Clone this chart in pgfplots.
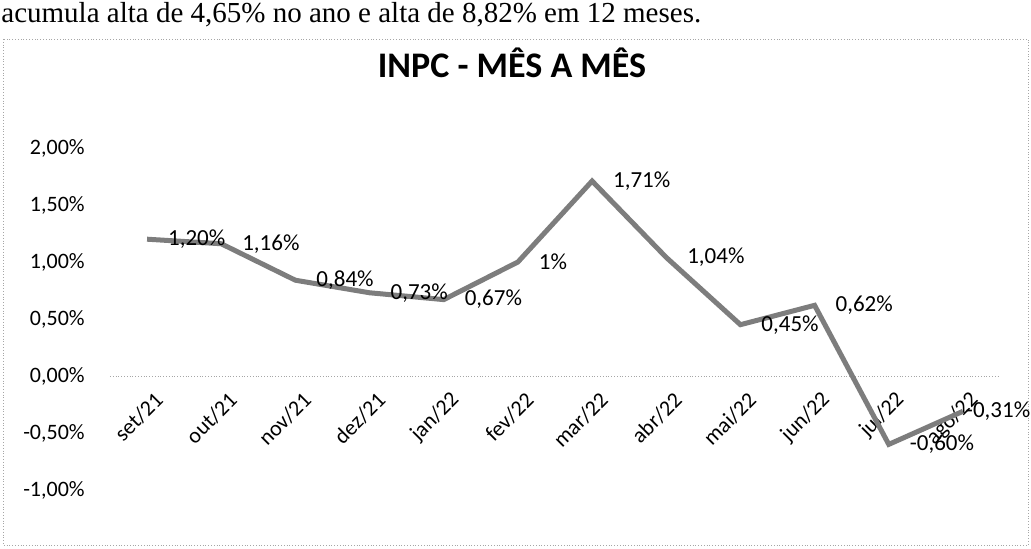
\documentclass[border=0pt]{standalone}
\usepackage{pgfplots}
\pgfplotsset{compat=1.18}
\usepackage{fontspec}
\setmainfont{Carlito}
\newfontfamily\timesfont{Liberation Serif}
\definecolor{linegray}{RGB}{125,125,125}
\begin{document}
\begin{tikzpicture}
\path[use as bounding box] (0pt,0pt) rectangle (515.5pt,274.5pt);
\draw[gray!70, densely dotted] (1.5pt,255pt) rectangle (514pt,2pt);
\node[anchor=base west, inner sep=0pt, font=\timesfont\fontsize{14.5}{16}\selectfont] at (0.5pt,263pt) {acumula alta de 4,65\% no ano e alta de 8,82\% em 12 meses.};
\node[font=\bfseries\fontsize{18}{21}\selectfont] at (256pt,243pt) {INPC - MÊS A MÊS};
\begin{axis}[
  at={(55pt,29.5pt)}, anchor=south west,
  scale only axis, width=445pt, height=171pt,
  xmin=-0.5, xmax=11.5, ymin=-1, ymax=2,
  axis x line=middle, axis y line=left,
  hide obscured x ticks=false, hide obscured y ticks=false,
  axis line style={-},
  x axis line style={gray!70, densely dotted},
  y axis line style={draw=none},
  tick style={draw=none},
  xtick={0,...,11},
  xticklabels={set/21,out/21,nov/21,dez/21,jan/22,fev/22,mar/22,abr/22,mai/22,jun/22,jul/22,ago/22},
  xticklabel style={rotate=45, anchor=east, xshift=2pt, yshift=-10pt},
  ytick={-1,-0.5,0,0.5,1,1.5,2},
  yticklabels={{-1,00\%},{-0,50\%},{0,00\%},{0,50\%},{1,00\%},{1,50\%},{2,00\%}},
  yticklabel style={xshift=-7pt},
  ticklabel style={font=\fontsize{11}{13}\selectfont},
  clip=false,
  point meta=explicit symbolic,
  nodes near coords style={font=\fontsize{11.5}{13}\selectfont, anchor=west, xshift=7pt, text=black},
]
\addplot[linegray, line width=2.5pt, mark=none] coordinates {
  (0,1.20) (1,1.16) (2,0.84) (3,0.73) (4,0.67) (5,1.00)
  (6,1.71) (7,1.04) (8,0.45) (9,0.62) (10,-0.60) (11,-0.31)
};
\addplot[draw=none, mark=none, nodes near coords] coordinates {
  (0,1.20) [1,20\%]
  (1,1.16) [1,16\%]
  (2,0.84) [0,84\%]
  (3,0.73) [0,73\%]
  (4,0.67) [0,67\%]
  (5,1.00) [1\%]
  (6,1.71) [1,71\%]
  (7,1.04) [1,04\%]
  (8,0.45) [0,45\%]
  (9,0.62) [0,62\%]
  (10,-0.60) [-0,60\%]
};
\addplot[draw=none, mark=none, nodes near coords, nodes near coords style={xshift=-9pt}] coordinates {
  (11,-0.31) [-0,31\%]
};
\end{axis}
\end{tikzpicture}
\end{document}
